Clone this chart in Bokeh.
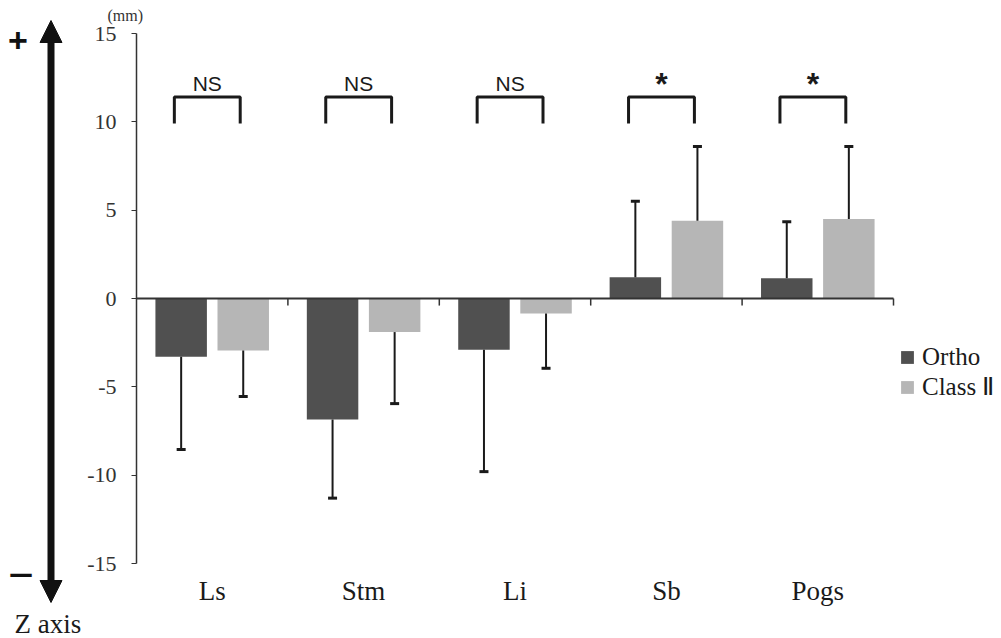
import numpy as np
from bokeh.plotting import figure
from bokeh.models import (ColumnDataSource, FixedTicker, Range1d, Label, Arrow,
                          NormalHead)
from bokeh.core.properties import value
from bokeh.embed import file_html
from bokeh.resources import INLINE

# ---------------- data ----------------
categories = ["Ls", "Stm", "Li", "Sb", "Pogs"]
series_names = ["Ortho", "Class Ⅱ"]
ortho_mean = [-3.3, -6.85, -2.9, 1.2, 1.15]
ortho_sd = [5.25, 4.45, 6.9, 4.3, 3.2]
class2_mean = [-2.95, -1.9, -0.85, 4.4, 4.5]
class2_sd = [2.6, 4.05, 3.1, 4.2, 4.1]
significance = ["NS", "NS", "NS", "*", "*"]
y_ticks = [-15, -10, -5, 0, 5, 10, 15]

# ---------------- styles ----------------
DARK = "#505050"
LIGHT = "#b6b6b6"
INK = "#1a1a1a"
AXIS = "#333333"
SERIF = "Liberation Serif"
SANS = "Liberation Sans"

W, H = 1001, 638
n = len(categories)
centers = np.arange(n) + 0.5
PX = 151.4              # pixels per category
PY = 530.0 / 30.0       # pixels per mm
X0, Y0 = 136, 298       # canvas position of (0, 0)


def dx(px):  # canvas px -> data x
    return (px - X0) / PX


def dy(py):  # canvas px -> data y
    return (Y0 - py) / PY


off = 0.205
bw = 0.34

p = figure(width=W, height=H,
           x_range=Range1d(dx(0), dx(W)), y_range=Range1d(dy(H), dy(0)),
           output_backend="svg", toolbar_location=None, min_border=0)
p.grid.visible = False
p.outline_line_color = None
p.background_fill_color = "white"
p.border_fill_color = "white"


def err_end(means, sds):
    m = np.array(means, dtype=float)
    s = np.array(sds, dtype=float)
    return m + np.sign(m) * s


series = [
    (ortho_mean, ortho_sd, -off, DARK, series_names[0]),
    (class2_mean, class2_sd, off, LIGHT, series_names[1]),
]
for means, sds, ox, col, name in series:
    src = ColumnDataSource(dict(x=centers + ox, top=means, err=err_end(means, sds)))
    p.vbar(x="x", top="top", bottom=0, width=bw, source=src,
           fill_color=col, line_color=None, legend_label=name)
    p.segment(x0="x", y0="top", x1="x", y1="err", source=src,
              line_width=2, line_color=INK)
    p.scatter(x="x", y="err", marker="dash", size=9, source=src,
              line_width=3, line_color=INK)

# zero line and category boundary ticks
p.segment(x0=[0], y0=[0], x1=[n], y1=[0], line_width=2, line_color=AXIS)
bounds = np.arange(1, n + 1)
p.segment(x0=bounds, y0=np.zeros(n), x1=bounds, y1=np.full(n, -0.4),
          line_width=1.5, line_color=AXIS)

# significance brackets
bl, br, btop, bbot = -0.25, 0.185, 11.4, 9.9
xs = [[c + bl, c + bl, c + br, c + br] for c in centers]
ys = [[bbot, btop, btop, bbot] for _ in centers]
p.multi_line(xs=xs, ys=ys, line_width=3, line_color=INK)
mid = (bl + br) / 2
ns_idx = [i for i, s in enumerate(significance) if s == "NS"]
st_idx = [i for i, s in enumerate(significance) if s != "NS"]
p.text(x=[centers[i] + mid for i in ns_idx], y=[dy(82.5)] * len(ns_idx),
       text=[significance[i] for i in ns_idx], text_align="center",
       text_baseline="middle", text_font=value(SANS),
       text_font_size="21px", text_color=INK)
p.text(x=[centers[i] + mid for i in st_idx], y=[dy(83)] * len(st_idx),
       text=[significance[i] for i in st_idx], text_align="center",
       text_baseline="middle", text_font=value(SANS),
       text_font_size="32px", text_font_style="bold", text_color=INK)

# axes (placed inside the full-canvas frame)
p.yaxis.fixed_location = 0
p.yaxis.bounds = (y_ticks[0], y_ticks[-1])
p.yaxis.ticker = FixedTicker(ticks=y_ticks)
p.yaxis.major_label_overrides = {t: str(t) for t in y_ticks}
p.yaxis.major_label_text_font = SERIF
p.yaxis.major_label_text_font_size = "22px"
p.yaxis.major_label_text_color = AXIS
p.yaxis.major_tick_in = 0
p.yaxis.major_tick_out = 5
p.yaxis.minor_tick_in = 0
p.yaxis.minor_tick_out = 0
p.yaxis.axis_line_width = 1.5
p.yaxis.axis_line_color = AXIS
p.yaxis.major_tick_line_color = AXIS
p.yaxis.major_label_standoff = 15

p.xaxis.fixed_location = y_ticks[0]
p.xaxis.ticker = FixedTicker(ticks=list(centers))
p.xaxis.major_label_overrides = {float(c): name for c, name in zip(centers, categories)}
p.xaxis.axis_line_color = None
p.xaxis.major_tick_in = 0
p.xaxis.major_tick_out = 0
p.xaxis.minor_tick_in = 0
p.xaxis.minor_tick_out = 0
p.xaxis.major_label_text_font = SERIF
p.xaxis.major_label_text_font_size = "27px"
p.xaxis.major_label_text_color = INK
p.xaxis.major_label_standoff = 12

p.add_layout(Label(x=dx(107), y=dy(15), text="(mm)",
                   text_font=SERIF, text_font_size="16px", text_color=AXIS,
                   text_align="left", text_baseline="middle"))

# legend
lg = p.legend[0]
lg.location = (899, 237)
lg.label_text_font = SERIF
lg.label_text_font_size = "25px"
lg.label_text_color = INK
lg.glyph_width = 16
lg.glyph_height = 16
lg.label_standoff = 7
lg.spacing = 1
lg.padding = 0
lg.margin = 0
lg.border_line_color = None
lg.background_fill_alpha = 0

# ---------------- Z axis arrow and marks ----------------
BLK = "#111111"
p.add_layout(Arrow(start=NormalHead(size=22, fill_color=BLK, line_color=BLK),
                   end=NormalHead(size=22, fill_color=BLK, line_color=BLK),
                   x_start=dx(50.5), y_start=dy(602), x_end=dx(50.5), y_end=dy(20),
                   line_width=7, line_color=BLK))
p.add_layout(Label(x=dx(17.5), y=dy(39.5), text="+", text_font=SANS, text_font_size="34px",
                   text_font_style="bold", text_align="center", text_baseline="middle",
                   text_color=BLK))
p.add_layout(Label(x=dx(20.5), y=dy(574), text="−", text_font=SANS, text_font_size="44px",
                   text_align="center", text_baseline="middle", text_color=BLK))
p.add_layout(Label(x=dx(14), y=dy(623), text="Z axis", text_font=SERIF, text_font_size="27px",
                   text_align="left", text_baseline="middle", text_color=INK))

open("out.html", "w").write(file_html(p, INLINE))
